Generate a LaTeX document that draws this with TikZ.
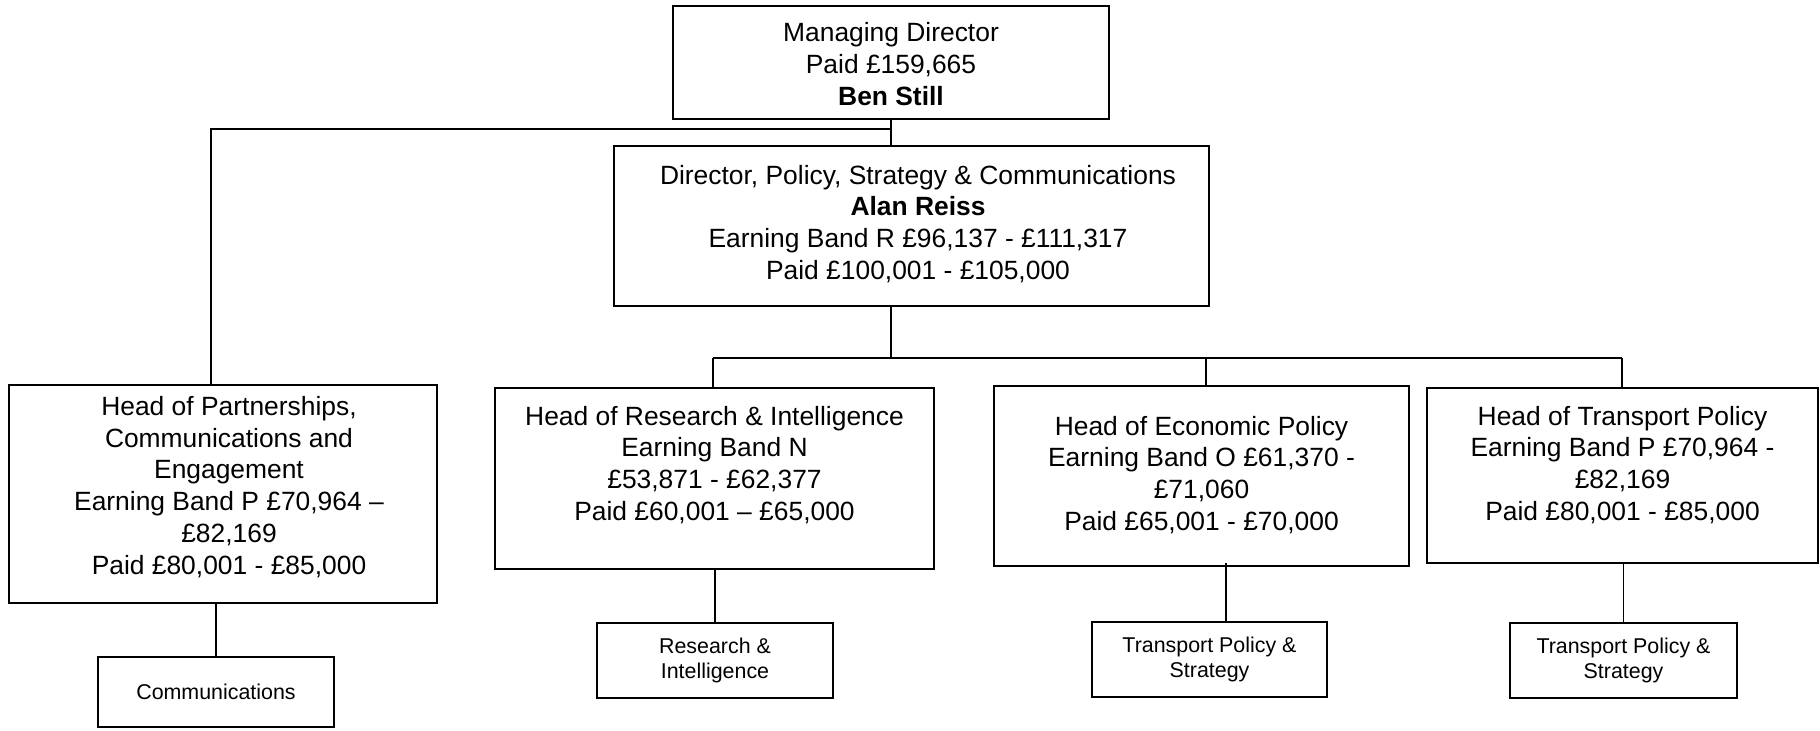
\documentclass[tikz,border=0pt]{standalone}
\usepackage{fontspec}
\setmainfont{Liberation Sans}
\begin{document}
\begin{tikzpicture}[
    x=0.5pt, y=-0.5pt,
    box/.style={draw, line width=1pt, rectangle, inner sep=0pt},
    bigtext/.style={align=center, inner sep=0pt, font=\fontsize{13.2}{15.9}\selectfont},
    small/.style={draw, line width=1pt, rectangle, inner sep=0pt, align=center, font=\fontsize{10.7}{12.5}\selectfont},
    link/.style={line width=0.9pt}
]
    \useasboundingbox (0,0) rectangle (1820,730);

    % Managing director at top
    \node[box, minimum width=218pt, minimum height=56.5pt] (md) at (891,62.5) {};
    \node[bigtext] (mdT) at (891,64) {Managing Director\\Paid £159,665\\\textbf{Ben Still}};

    % Director box
    \node[box, minimum width=297.5pt, minimum height=80pt] (dir) at (911.5,226) {};
    \node[bigtext] (dirT) at (918,224) {Director, Policy, Strategy \& Communications\\\textbf{Alan Reiss}\\Earning Band R £96,137 - £111,317\\Paid £100,001 - £105,000};

    % Heads of service
    \node[box, minimum width=214pt, minimum height=109pt] (part) at (223,494) {};
    \node[bigtext] (partT) at (229,487) {Head of Partnerships,\\Communications and\\Engagement\\Earning Band P £70,964 –\\£82,169\\Paid £80,001 - £85,000};

    \node[box, minimum width=219.5pt, minimum height=90.5pt] (res) at (714.5,478.5) {};
    \node[bigtext] (resT) at (714.5,465) {Head of Research \& Intelligence\\Earning Band N\\£53,871 - £62,377\\Paid £60,001 – £65,000};

    \node[box, minimum width=207.5pt, minimum height=90pt] (eco) at (1201.5,476) {};
    \node[bigtext] (ecoT) at (1201.5,475) {Head of Economic Policy\\Earning Band O £61,370 -\\£71,060\\Paid £65,001 - £70,000};

    \node[box, minimum width=195.5pt, minimum height=87.5pt] (tra) at (1622.5,475.5) {};
    \node[bigtext] (traT) at (1622.5,465) {Head of Transport Policy\\Earning Band P £70,964 -\\£82,169\\Paid £80,001 - £85,000};

    % Teams below
    \node[small, minimum width=118pt, minimum height=35pt] (comms) at (216,692) {Communications};
    \node[small, minimum width=118pt, minimum height=37.5pt] (ri) at (715,660.5) {Research \&\\Intelligence};
    \node[small, minimum width=117.5pt, minimum height=37.5pt] (ecosub) at (1209.5,659.5) {Transport Policy \&\\Strategy};
    \node[small, minimum width=113.5pt, minimum height=37.5pt] (trasub) at (1623.5,660.5) {Transport Policy \&\\Strategy};

    % Junction points
    \coordinate (j0) at (891,129);
    \coordinate (jl) at (211,129);
    \coordinate (bus) at (891,358);
    \coordinate (busL) at (713,358);
    \coordinate (busM) at (1206,358);
    \coordinate (busR) at (1622,358);
    \coordinate (ecoS) at (1226,563);

    % Managing director to director and partnerships
    \draw[link] (md.south) -- (md.south |- dir.north);
    \draw[link] (j0) -- (jl) -- (jl |- part.north);

    % Director to heads
    \draw[link] (bus |- dir.south) -- (bus);
    \draw[link] (busL) -- (busR);
    \foreach \b/\n in {busL/res, busM/eco, busR/tra}
        \draw[link] (\b) -- (\b |- \n.north);

    % Heads to teams
    \draw[link] (comms.north |- part.south) -- (comms.north);
    \draw[link] (ri.north |- res.south) -- (ri.north);
    \draw[link] (ecoS) -- (ecoS |- ecosub.north);
    \draw[link] (trasub.north |- tra.south) -- (trasub.north);

\end{tikzpicture}
\end{document}
